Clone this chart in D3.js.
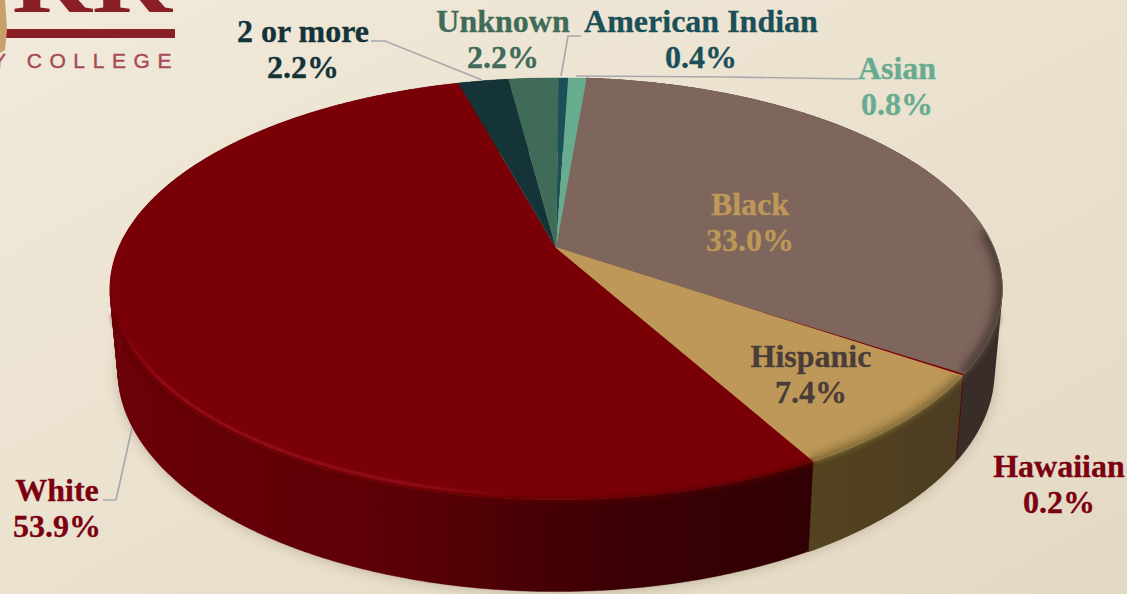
<!DOCTYPE html>
<html><head><meta charset="utf-8">
<script src="https://cdn.jsdelivr.net/npm/d3@7"></script>
<style>html,body{margin:0;padding:0;overflow:hidden;background:#eee6d6}svg{display:block}</style>
</head><body><svg id="c" width="1127" height="594"></svg>
<script>
const categories = ["American Indian","Asian","Black","Hawaiian","Hispanic","White","2 or more","Unknown"];
const values = [0.4,0.8,33.0,0.2,7.4,53.9,2.2,2.2];
const topColors = ["#1c5058","#68ac90","#7e665c","#7b0008","#bd9858","#7a0008","#143438","#3f6b58"];
const wallColors = [["#10343a"],["#40705c"],["#463833","#382c29"],["#500005"],["#54431f","#4c3c22"],["#6c0008","#5c0006","#3c0004","#300004"],["#0e2428"],["#2a4a3c"]];
const softEdge = ["#143a40","#4c8a70","#5a4a44","#5a0006","#7f6a38","#5c0006","#0e2c30","#305644"];
const bandColors = [null,null,"#4a3a36",null,"#957840",null,null,null];
const labelColors = ["#1c5058","#68ac90","#bd9858","#7b0010","#4a3c38","#7b0010","#143438","#3f6b58"];
const labelX = [701,897,750,1059,811,57,303,503];
const labelY = [32,79,215,477,367,501,42,32];
const leaders = [[[581,36],[568,36],[561,76]],[[576,76],[730,77],[858,79]],null,null,null,[[103,500],[116,500],[132,428]],[[371,41],[385,41],[482,80]],null];
const drawOrder = [3,2,4,5,6,7,0,1];

const svg = d3.select("#c");
const defs = svg.append("defs");
const bg = defs.append("linearGradient").attr("id","bg").attr("x1",0).attr("y1",0).attr("x2",1).attr("y2",1);
bg.append("stop").attr("offset",0).attr("stop-color","#f1e9da");
bg.append("stop").attr("offset",1).attr("stop-color","#e4d9c3");
[["b1",1.2],["b2",2.4],["b5",5],["b7",7]].forEach(([id,s])=>defs.append("filter").attr("id",id)
  .attr("x","-20%").attr("y","-20%").attr("width","140%").attr("height","140%")
  .append("feGaussianBlur").attr("stdDeviation",s));
svg.append("rect").attr("width",1127).attr("height",594).attr("fill","url(#bg)");

// logo fragment
const logo = svg.append("g");
logo.append("text").text("RR").attr("x",12).attr("y",12).attr("font-family","Liberation Serif").attr("font-weight",700)
  .attr("font-size",92).attr("textLength",160).attr("lengthAdjust","spacingAndGlyphs").attr("fill","#8a1f28");
logo.append("rect").attr("x",6).attr("y",29).attr("width",169).attr("height",9).attr("fill","#8a1f28");
logo.append("path").attr("d","M0,0H5L7,30L5,50L0,53Z").attr("fill","#c9a06c");
logo.append("text").text("Y COLLEGE").attr("x",-8).attr("y",68).attr("font-family","Liberation Sans")
  .attr("font-size",21).attr("letter-spacing",7.6).attr("fill","#a64a54").attr("stroke","#a64a54").attr("stroke-width",.4);

// perspective projection of the pie disc
const cx=556, cy=248, A=437.5, B=203, P=0.194, SHRINK=0.982, BASE_Y=328.4, BASE_K=1.045, START=0.008;
const project=(a,base)=>{const u=Math.sin(a),v=-Math.cos(a),d=1-P*v;
  const x=A*u/d,y=B*v/d;
  return base?[cx+x*SHRINK,BASE_Y+y*BASE_K]:[cx+x,cy+y];};
const pie=d3.pie().sort(null).startAngle(START).endAngle(START+2*Math.PI).value(d=>d)(values);
const arcPts=(s,e,base)=>{const n=Math.max(2,Math.ceil((e-s)/0.008));return d3.range(n+1).map(i=>project(s+(e-s)*i/n,base));};
const line=d3.line();
const deg=Math.PI/180;
const quads=(s,e)=>{const r=arcPts(s,e,false),b=arcPts(s,e,true);
  return d3.range(r.length-1).map(i=>line([r[i],r[i+1],b[i+1],b[i]])+"Z").join("");};

// ground shadow
svg.append("path").attr("d",line(arcPts(0,2*Math.PI,true))+"Z").attr("fill","#7a6c50").attr("opacity",.42).attr("filter","url(#b7)");

// walls
drawOrder.forEach(i=>{const d=pie[i];
  const id="w"+i, rim=arcPts(d.startAngle,d.endAngle,false), base=arcPts(d.startAngle,d.endAngle,true);
  const xs=rim.concat(base).map(p=>p[0]);
  const g=defs.append("linearGradient").attr("id",id).attr("gradientUnits","userSpaceOnUse")
    .attr("x1",d3.min(xs)).attr("x2",d3.max(xs)).attr("y1",0).attr("y2",0);
  const stops=wallColors[i];
  const offs=stops.length===4?[0,.4,.72,1]:stops.map((c,k)=>stops.length>1?k/(stops.length-1):0);
  stops.forEach((c,k)=>g.append("stop").attr("offset",offs[k]).attr("stop-color",c));
  svg.append("path").attr("d",quads(d.startAngle,d.endAngle)).attr("fill","url(#"+id+")")
    .attr("stroke","url(#"+id+")").attr("stroke-width",(i===2||i===4)?1.4:.4);
});

// top face
const wedge=i=>{const d=pie[i];return line([[cx,cy]].concat(arcPts(d.startAngle,d.endAngle,false)))+"Z";};
const rangeArc=(d,lo,hi)=>{const s=Math.max(d.startAngle,lo*deg),e=Math.min(d.endAngle,hi*deg);return s<e?line(arcPts(s,e,false)):null;};
drawOrder.forEach(i=>{const d=pie[i];
  svg.append("path").attr("d",wedge(i)).attr("fill",topColors[i])
    .attr("stroke",(i===2||i===4)?topColors[i]:"none").attr("stroke-width",1.4).attr("stroke-linejoin","round");
  defs.append("clipPath").attr("id","t"+i).append("path").attr("d",wedge(i));
  if(bandColors[i]){
    const a=rangeArc(d,85,200);
    if(a) svg.append("g").attr("clip-path","url(#t"+i+")").append("path").attr("d",a).attr("fill","none")
      .attr("stroke",bandColors[i]).attr("stroke-width",12).attr("filter","url(#b5)");
  }
});
// soft bevel between top face and wall
pie.forEach((d,i)=>{
  const a=rangeArc(d,108,252);
  if(a&&i!==3) svg.append("path").attr("d",a).attr("fill","none").attr("stroke",softEdge[i])
    .attr("stroke-width",4).attr("filter","url(#b2)");
});
// highlight along the front-left of the bevel
const hi=defs.append("linearGradient").attr("id","hl").attr("gradientUnits","userSpaceOnUse").attr("x1",112).attr("x2",530).attr("y1",0).attr("y2",0);
[[0,0],[.12,.75],[.7,.75],[1,0]].forEach(([o,a])=>hi.append("stop").attr("offset",o).attr("stop-color","#a81826").attr("stop-opacity",a));
const hlPts=arcPts(185*deg,272*deg,false).map(p=>[p[0]+(p[0]<cx?3*(cx-p[0])/446:0),p[1]-4]);
svg.append("path").attr("d",line(hlPts)).attr("fill","none").attr("stroke","url(#hl)").attr("stroke-width",2.5).attr("filter","url(#b1)");

// leaders
leaders.forEach(l=>{if(l)svg.append("path").attr("d",line(l)).attr("fill","none").attr("stroke","#a9a9ac").attr("stroke-width",1.7);});

// labels
categories.forEach((c,i)=>{
  const t=svg.append("text").attr("text-anchor","middle").attr("font-family","Liberation Serif").attr("font-weight",700)
    .attr("font-size",32).attr("fill",labelColors[i]).attr("stroke",labelColors[i]).attr("stroke-width",.3);
  t.append("tspan").attr("x",labelX[i]).attr("y",labelY[i]).text(c);
  t.append("tspan").attr("x",labelX[i]).attr("y",labelY[i]+36).text(d3.format(".1f")(values[i])+"%");
});
</script></body></html>
